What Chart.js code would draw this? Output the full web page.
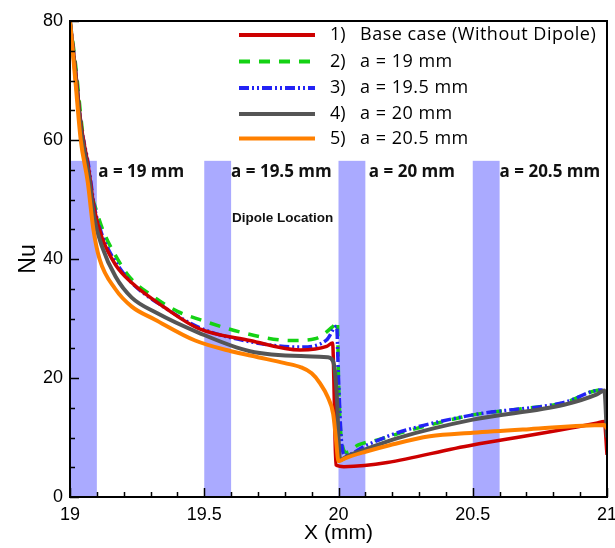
<!DOCTYPE html>
<html>
<head>
<meta charset="utf-8">
<script src="https://cdn.jsdelivr.net/npm/chart.js@4.4.1/dist/chart.umd.min.js"></script>
<style>
  html, body { margin: 0; padding: 0; background: #fff; }
  #wrap { width: 615px; height: 548px; }
</style>
</head>
<body>
<div id="wrap"><canvas id="nu-chart" width="615" height="548"></canvas></div>
<script>
// Nu along X for the base case and the four dipole positions
const xBase = [19.0, 19.02, 19.04, 19.07, 19.09, 19.12, 19.17, 19.23, 19.354, 19.48, 19.67, 19.857, 19.956, 19.978, 19.985, 19.99, 20.02, 20.5, 20.96, 20.99, 21.0];
const nuBase = [80, 72, 63, 55, 48.5, 43.5, 39, 36, 31.8, 28.3, 26.3, 24.7, 25.3, 25.9, 15, 5.4, 5.1, 8.75, 12.4, 12.7, 7.1];

const xA190 = [19.0, 19.02, 19.045, 19.074, 19.093, 19.124, 19.168, 19.223, 19.31, 19.40, 19.484, 19.645, 19.82, 19.912, 19.98, 19.996, 20.0, 20.01, 20.03, 20.074, 20.155, 20.248, 20.34, 20.5, 20.676, 20.837, 20.98, 21.0];
const nuA190 = [80, 73, 62, 52, 48.9, 44.7, 40.7, 36.9, 33.7, 31.2, 29.8, 27.6, 26.3, 26.6, 28.7, 29.5, 20, 10, 7.5, 8.75, 9.7, 11, 12.1, 13.8, 14.8, 15.8, 18, 17.5];

const xA195 = [19.0, 19.02, 19.04, 19.07, 19.09, 19.12, 19.17, 19.23, 19.354, 19.48, 19.67, 19.857, 19.956, 19.993, 20.0, 20.01, 20.024, 20.1, 20.22, 20.5, 20.84, 20.98, 21.0];
const nuA195 = [80, 72, 63, 55.5, 49, 44, 39.5, 36, 31.8, 28.5, 26.1, 25.2, 26.4, 28.7, 20, 10, 7, 8.6, 10.8, 13.8, 15.9, 18, 17];

const xA200 = [19.0, 19.02, 19.04, 19.07, 19.09, 19.12, 19.17, 19.23, 19.32, 19.48, 19.67, 19.86, 19.96, 19.98, 19.995, 20.0, 20.006, 20.03, 20.1, 20.22, 20.5, 20.84, 20.96, 20.99, 21.0];
const nuA200 = [80, 71, 62, 54, 47, 42, 37, 33.5, 31, 27.6, 24.5, 23.7, 23.5, 22.8, 16, 10, 6.2, 6.8, 8, 9.9, 13, 15.5, 17.2, 17.9, 10];

const xA205 = [19.0, 19.02, 19.04, 19.066, 19.087, 19.11, 19.168, 19.23, 19.317, 19.466, 19.6, 19.7, 19.8, 19.86, 19.9, 19.93, 19.96, 19.98, 19.99, 20.0, 20.024, 20.1, 20.19, 20.34, 20.5, 20.71, 20.99, 21.0];
const nuA205 = [80, 70, 60, 53, 45, 40, 35, 32, 29.8, 26.3, 24.5, 23.5, 22.5, 21.8, 20.8, 19.2, 16.8, 14, 10, 6, 6.5, 7.6, 8.7, 10.2, 10.8, 11.4, 12.1, 11.5];

const legendNames = ['Base case (Without Dipole)', 'a = 19 mm', 'a = 19.5 mm', 'a = 20 mm', 'a = 20.5 mm'];

// shaded dipole bands
const dipoleStart = [19, 19.5, 20, 20.5];
const dipoleWidth = 0.1;
const dipoleTop = 56.5;
const dipoleLabels = ['a = 19 mm', 'a = 19.5 mm', 'a = 20 mm', 'a = 20.5 mm'];
const dipoleLabelX = [19.105, 19.6, 20.113, 20.6];

const xTicks = [19, 19.5, 20, 20.5, 21];
const yTicks = [0, 20, 40, 60, 80];

function pts(xs, ys) {
    return xs.map((x, i) => ({ x: x, y: ys[i] }));
}

const styles = [
    { color: 'rgb(205,0,0)', width: 3.5, dash: [] },
    { color: 'rgb(20,210,20)', width: 3.5, dash: [11, 9] },
    { color: 'rgb(35,35,245)', width: 3.5, dash: [10, 3, 2, 3, 2, 3] },
    { color: 'rgb(85,85,85)', width: 4, dash: [] },
    { color: 'rgb(255,128,0)', width: 4, dash: [] }
];

const seriesData = [pts(xBase, nuBase), pts(xA190, nuA190), pts(xA195, nuA195), pts(xA200, nuA200), pts(xA205, nuA205)];
const drawOrder = [2, 4, 3, 1, 0];

const datasets = seriesData.map((d, i) => ({
    label: legendNames[i],
    data: d,
    borderColor: styles[i].color,
    borderWidth: styles[i].width,
    borderDash: styles[i].dash,
    pointRadius: 0,
    fill: false,
    cubicInterpolationMode: 'monotone',
    order: drawOrder[i]
}));

const FONT = '"Open Sans", "Liberation Sans", Arial, sans-serif';
const TICKFONT = '"Liberation Sans Narrow", "Liberation Sans", Arial, sans-serif';
const TITLEFONT = '"Liberation Sans", Arial, sans-serif';

const bandsPlugin = {
    id: 'bands',
    beforeDatasetsDraw(chart) {
        const { ctx, scales: { x, y } } = chart;
        ctx.save();
        ctx.fillStyle = 'rgb(170,170,255)';
        dipoleStart.forEach(s => {
            const x0 = x.getPixelForValue(s);
            const x1 = x.getPixelForValue(s + dipoleWidth);
            const y0 = y.getPixelForValue(dipoleTop);
            const y1 = y.getPixelForValue(0);
            ctx.fillRect(x0, y0, x1 - x0, y1 - y0);
        });
        ctx.restore();
    },
    afterDatasetsDraw(chart) {
        const { ctx, chartArea: a, scales: { x, y } } = chart;
        ctx.save();
        // band labels
        ctx.fillStyle = '#111';
        ctx.font = 'bold 17px ' + FONT;
        ctx.textBaseline = 'middle';
        ctx.textAlign = 'left';
        dipoleLabels.forEach((t, i) => {
            ctx.fillText(t, x.getPixelForValue(dipoleLabelX[i]), y.getPixelForValue(54.6));
        });
        ctx.font = 'bold 13.5px ' + TITLEFONT;
        ctx.fillText('Dipole Location', x.getPixelForValue(19.603), y.getPixelForValue(46.8));

        // ticks (inward)
        ctx.strokeStyle = '#000';
        ctx.lineWidth = 1.5;
        ctx.beginPath();
        for (let v = 0; v <= 80; v += 5) {
            const py = Math.round(y.getPixelForValue(v)) + 0.5;
            const len = v % 20 === 0 ? 9 : 5;
            ctx.moveTo(a.left, py);
            ctx.lineTo(a.left + len, py);
        }
        for (let k = 0; k <= 20; k++) {
            const px = Math.round(x.getPixelForValue(19 + k / 10)) + 0.5;
            const len = k % 5 === 0 ? 9 : 5;
            ctx.moveTo(px, a.bottom);
            ctx.lineTo(px, a.bottom - len);
        }
        ctx.stroke();

        // frame
        ctx.lineWidth = 2;
        ctx.strokeRect(a.left, a.top, a.right - a.left, a.bottom - a.top);

        // legend
        const rowY = [35, 61.5, 88, 114, 138.5];
        ctx.font = '18px ' + FONT;
        ctx.fillStyle = '#000';
        rowY.forEach((ry, i) => {
            ctx.beginPath();
            ctx.strokeStyle = styles[i].color;
            ctx.lineWidth = 4;
            ctx.setLineDash(styles[i].dash);
            ctx.moveTo(239, ry);
            ctx.lineTo(315, ry);
            ctx.stroke();
            ctx.setLineDash([]);
            ctx.letterSpacing = '0px';
            ctx.fillText((i + 1) + ')', 330, ry);
            ctx.letterSpacing = '0.5px';
            ctx.fillText(legendNames[i], 360, ry);
        });
        ctx.restore();
    }
};

const ctx = document.getElementById('nu-chart').getContext('2d');

const config = {
    type: 'line',
    data: { datasets: datasets },
    options: {
        responsive: false,
        animation: false,
        layout: { padding: { top: 21, right: 8, left: 0, bottom: 0 } },
        plugins: {
            legend: { display: false },
            tooltip: { enabled: false }
        },
        scales: {
            x: {
                type: 'linear',
                min: 19,
                max: 21,
                afterBuildTicks: (s) => { s.ticks = xTicks.map(v => ({ value: v })); },
                afterFit: (s) => { s.height = 51; s.paddingLeft = 0; s.paddingRight = 0; },
                grid: { display: false, drawTicks: false },
                border: { display: false },
                ticks: {
                    color: '#000',
                    padding: 7,
                    maxRotation: 0,
                    callback: (v) => String(v),
                    font: { size: 18, family: TICKFONT }
                },
                title: {
                    display: true,
                    text: 'X (mm)',
                    color: '#000',
                    padding: { top: 0, bottom: 2 },
                    font: { size: 21, family: TITLEFONT }
                }
            },
            y: {
                min: 0,
                max: 80,
                afterBuildTicks: (s) => { s.ticks = yTicks.map(v => ({ value: v })); },
                afterFit: (s) => { s.width = 70; s.paddingTop = 0; s.paddingBottom = 0; },
                grid: { display: false, drawTicks: false },
                border: { display: false },
                ticks: {
                    color: '#000',
                    padding: 7,
                    font: { size: 18, family: TICKFONT }
                },
                title: {
                    display: true,
                    text: 'Nu',
                    color: '#000',
                    padding: { top: 15, bottom: 0 },
                    font: { size: 23, family: TITLEFONT }
                }
            }
        }
    },
    plugins: [bandsPlugin]
};

const nuChart = new Chart(ctx, config);
</script>
</body>
</html>
